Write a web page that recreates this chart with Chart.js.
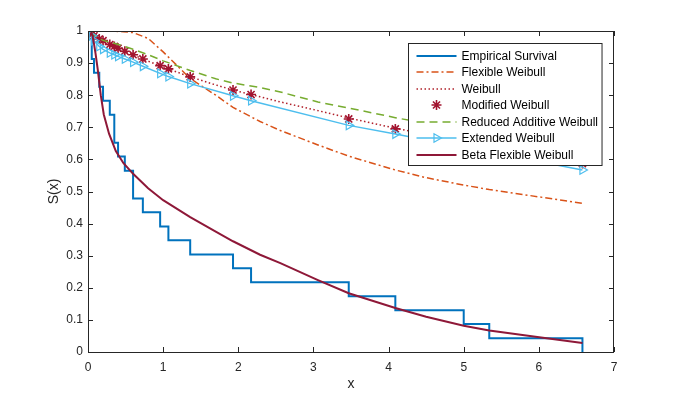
<!DOCTYPE html>
<html>
<head>
<meta charset="utf-8">
<title>Survival curves</title>
<script src="https://cdn.jsdelivr.net/npm/chart.js@4.4.1/dist/chart.umd.min.js"></script>
<style>
  html, body { margin: 0; padding: 0; background: #fff; }
  #wrap { width: 680px; height: 396px; }
</style>
</head>
<body>
<div id="wrap"><canvas id="survivalChart" width="680" height="396"></canvas></div>
<script>
// Data
const xGrid = [0.04, 0.06, 0.08, 0.1, 0.13, 0.17, 0.21, 0.28, 0.37, 0.47, 0.6, 0.8, 1.0,
  1.36, 1.7, 1.93, 2.29, 2.56, 3.06, 3.47, 4.09, 4.5, 5.0, 5.34, 5.98, 6.58];

const flexibleWeibull = [1.0, 1.0, 1.0, 1.0, 1.0, 1.0, 1.0, 1.0, 0.999, 0.998, 0.995, 0.977, 0.935,
  0.852, 0.80, 0.762, 0.718, 0.69, 0.645, 0.61, 0.567, 0.543, 0.52, 0.506, 0.484, 0.463];

const weibull = [0.992, 0.988, 0.985, 0.981, 0.977, 0.972, 0.967, 0.959, 0.949, 0.939, 0.926, 0.906, 0.888,
  0.857, 0.832, 0.816, 0.795, 0.779, 0.752, 0.729, 0.697, 0.678, 0.655, 0.640, 0.613, 0.589];

const reducedAdditive = [1.0, 0.993, 0.988, 0.984, 0.979, 0.974, 0.970, 0.966, 0.960, 0.953, 0.943, 0.926, 0.907,
  0.877, 0.851, 0.838, 0.824, 0.81, 0.779, 0.76, 0.73, 0.712, 0.69, 0.676, 0.65, 0.625];

const betaFlexWeibull = [1.0, 0.985, 0.96, 0.93, 0.88, 0.80, 0.74, 0.68, 0.626, 0.589, 0.555, 0.51, 0.473,
  0.42, 0.375, 0.345, 0.303, 0.277, 0.224, 0.183, 0.137, 0.11, 0.082, 0.067, 0.047, 0.028];

// failure times (markers sit on these)
const eventTimes = [0.05, 0.08, 0.15, 0.20, 0.29, 0.35, 0.40, 0.49, 0.60, 0.73, 0.96, 1.07,
  1.36, 1.93, 2.17, 3.47, 4.09, 5.00, 5.34, 6.58];
const modifiedWeibull = [0.99, 0.985, 0.975, 0.97, 0.958, 0.952, 0.946, 0.937, 0.926, 0.913, 0.892, 0.882,
  0.857, 0.816, 0.802, 0.726, 0.695, 0.652, 0.637, 0.587];
const extendedWeibull = [0.985, 0.97, 0.952, 0.943, 0.932, 0.926, 0.921, 0.913, 0.903, 0.89, 0.868, 0.858,
  0.836, 0.798, 0.783, 0.706, 0.679, 0.638, 0.623, 0.567];

// Kaplan-Meier steps
const empTimes = [0.05, 0.05, 0.08, 0.15, 0.20, 0.29, 0.35, 0.40, 0.49, 0.60, 0.73, 0.96, 1.07,
  1.36, 1.93, 2.17, 3.47, 4.09, 5.00, 5.34, 6.58];
const empSurvival = [1, 0.913, 0.870, 0.826, 0.783, 0.739, 0.652, 0.609, 0.565, 0.478, 0.435, 0.391, 0.348,
  0.304, 0.261, 0.217, 0.174, 0.130, 0.087, 0.043, 0];

const xTicks = [0, 1, 2, 3, 4, 5, 6, 7];
const yTicks = [0, 0.1, 0.2, 0.3, 0.4, 0.5, 0.6, 0.7, 0.8, 0.9, 1];

const axisColor = '#262626';
const fontFamily = '"Liberation Sans", Arial, Helvetica, sans-serif';

// pair up x and y arrays
function toPoints(xs, ys) {
  return xs.map((x, i) => ({ x: x, y: ys[i] }));
}

const datasets = [
  {
    label: 'Empirical Survival',
    data: toPoints(empTimes, empSurvival),
    showLine: true, stepped: true,
    borderColor: '#0072BD', borderWidth: 2,
    pointRadius: 0, order: 7
  },
  {
    label: 'Flexible Weibull',
    data: toPoints(xGrid, flexibleWeibull),
    showLine: true,
    borderColor: '#D95319', borderWidth: 1.5, borderDash: [7, 3, 2, 3],
    pointRadius: 0, order: 6
  },
  {
    label: 'Weibull',
    data: toPoints(xGrid, weibull),
    showLine: true,
    borderColor: '#B0202A', borderWidth: 1.5, borderDash: [1.5, 2.5],
    pointRadius: 0, order: 5
  },
  {
    label: 'Modified Weibull',
    data: toPoints(eventTimes, modifiedWeibull),
    showLine: false,
    borderColor: '#A2142F',
    pointStyle: 'star', pointRadius: 5, pointBorderWidth: 1.6,
    pointBorderColor: '#A2142F', pointBackgroundColor: '#A2142F', order: 4
  },
  {
    label: 'Reduced Additive Weibull',
    data: toPoints(xGrid, reducedAdditive),
    showLine: true,
    borderColor: '#77AC30', borderWidth: 1.5, borderDash: [8, 5],
    pointRadius: 0, order: 3
  },
  {
    label: 'Extended Weibull',
    data: toPoints(eventTimes, extendedWeibull),
    showLine: true,
    borderColor: '#4DBEEE', borderWidth: 1.5,
    pointStyle: 'triangle', pointRotation: 90, pointRadius: 5, pointBorderWidth: 1.2,
    pointBorderColor: '#4DBEEE', pointBackgroundColor: 'rgba(0,0,0,0)', order: 2
  },
  {
    label: 'Beta Flexible Weibull',
    data: toPoints(xGrid, betaFlexWeibull),
    showLine: true,
    borderColor: '#8E1838', borderWidth: 2,
    pointRadius: 0, order: 1
  }
];

// MATLAB style box, inward ticks and legend drawn inside the axes
const frameAndLegend = {
  id: 'frameAndLegend',
  afterDraw(chart) {
    const { ctx, chartArea: a, scales } = chart;
    const tick = 5;
    ctx.save();
    ctx.strokeStyle = axisColor;
    ctx.lineWidth = 1;
    ctx.setLineDash([]);
    ctx.strokeRect(a.left + 0.5, a.top + 0.5, a.right - a.left - 1, a.bottom - a.top);

    ctx.beginPath();
    xTicks.forEach(v => {
      const px = Math.round(scales.x.getPixelForValue(v)) + 0.5;
      ctx.moveTo(px, a.bottom); ctx.lineTo(px, a.bottom - tick);
      ctx.moveTo(px, a.top); ctx.lineTo(px, a.top + tick);
    });
    yTicks.forEach(v => {
      const py = Math.round(scales.y.getPixelForValue(v)) + 0.5;
      ctx.moveTo(a.left, py); ctx.lineTo(a.left + tick, py);
      ctx.moveTo(a.right, py); ctx.lineTo(a.right - tick, py);
    });
    ctx.stroke();

    // legend
    ctx.font = '12px ' + fontFamily;
    const textW = Math.max(...datasets.map(d => ctx.measureText(d.label).width));
    const w = 53 + textW + 4;
    const rowH = 16.5;
    const h = 12 + rowH * (datasets.length - 1) + 11;
    const x0 = Math.round(a.right - 12 - w) + 0.5;
    const y0 = a.top + 12.5;
    ctx.fillStyle = '#fff';
    ctx.fillRect(x0, y0, w, h);
    ctx.strokeStyle = axisColor;
    ctx.strokeRect(x0, y0, w, h);

    datasets.forEach((d, i) => {
      const cy = Math.round(y0 + 12 + i * rowH);
      const lx = x0 + 8, rx = x0 + 48;
      if (d.showLine) {
        ctx.beginPath();
        ctx.setLineDash(d.borderDash || []);
        ctx.strokeStyle = d.borderColor;
        ctx.lineWidth = d.borderWidth;
        ctx.moveTo(lx, cy); ctx.lineTo(rx, cy);
        ctx.stroke();
        ctx.setLineDash([]);
      }
      if (d.pointRadius > 0) {
        ctx.strokeStyle = d.pointBorderColor;
        ctx.fillStyle = d.pointBackgroundColor;
        ctx.lineWidth = d.pointBorderWidth;
        Chart.helpers.drawPoint(ctx, {
          pointStyle: d.pointStyle, rotation: d.pointRotation || 0,
          radius: d.pointRadius, borderWidth: d.pointBorderWidth
        }, (lx + rx) / 2, cy);
      }
      ctx.fillStyle = '#000';
      ctx.textBaseline = 'middle';
      ctx.textAlign = 'left';
      ctx.fillText(d.label, x0 + 53, cy + 0.5);
    });
    ctx.restore();
  }
};

const chartCanvas = document.getElementById('survivalChart');

new Chart(chartCanvas, {
  type: 'scatter',
  data: { datasets: datasets },
  options: {
    responsive: false,
    animation: false,
    devicePixelRatio: 1,
    layout: { padding: { top: 31, right: 66, bottom: 0, left: 0 } },
    elements: { line: { tension: 0 } },
    plugins: {
      legend: { display: false },
      tooltip: { enabled: false }
    },
    scales: {
      x: {
        type: 'linear', min: 0, max: 7,
        grid: { display: false, drawTicks: false },
        border: { display: false },
        ticks: {
          stepSize: 1, padding: 8, color: axisColor,
          font: { family: fontFamily, size: 12 },
          maxRotation: 0
        },
        title: {
          display: true, text: 'x', color: axisColor,
          font: { family: fontFamily, size: 14 },
          padding: { top: 0, bottom: 3 }
        },
        afterFit: scale => { scale.height = 44; }
      },
      y: {
        type: 'linear', min: 0, max: 1,
        grid: { display: false, drawTicks: false },
        border: { display: false },
        ticks: {
          stepSize: 0.1, padding: 5, color: axisColor,
          font: { family: fontFamily, size: 12 },
          callback: v => String(Math.round(v * 10) / 10)
        },
        title: {
          display: true, text: 'S(x)', color: axisColor,
          font: { family: fontFamily, size: 14 },
          padding: { top: 46, bottom: 0 }
        },
        afterFit: scale => { scale.width = 88; }
      }
    }
  },
  plugins: [frameAndLegend]
});
</script>
</body>
</html>
